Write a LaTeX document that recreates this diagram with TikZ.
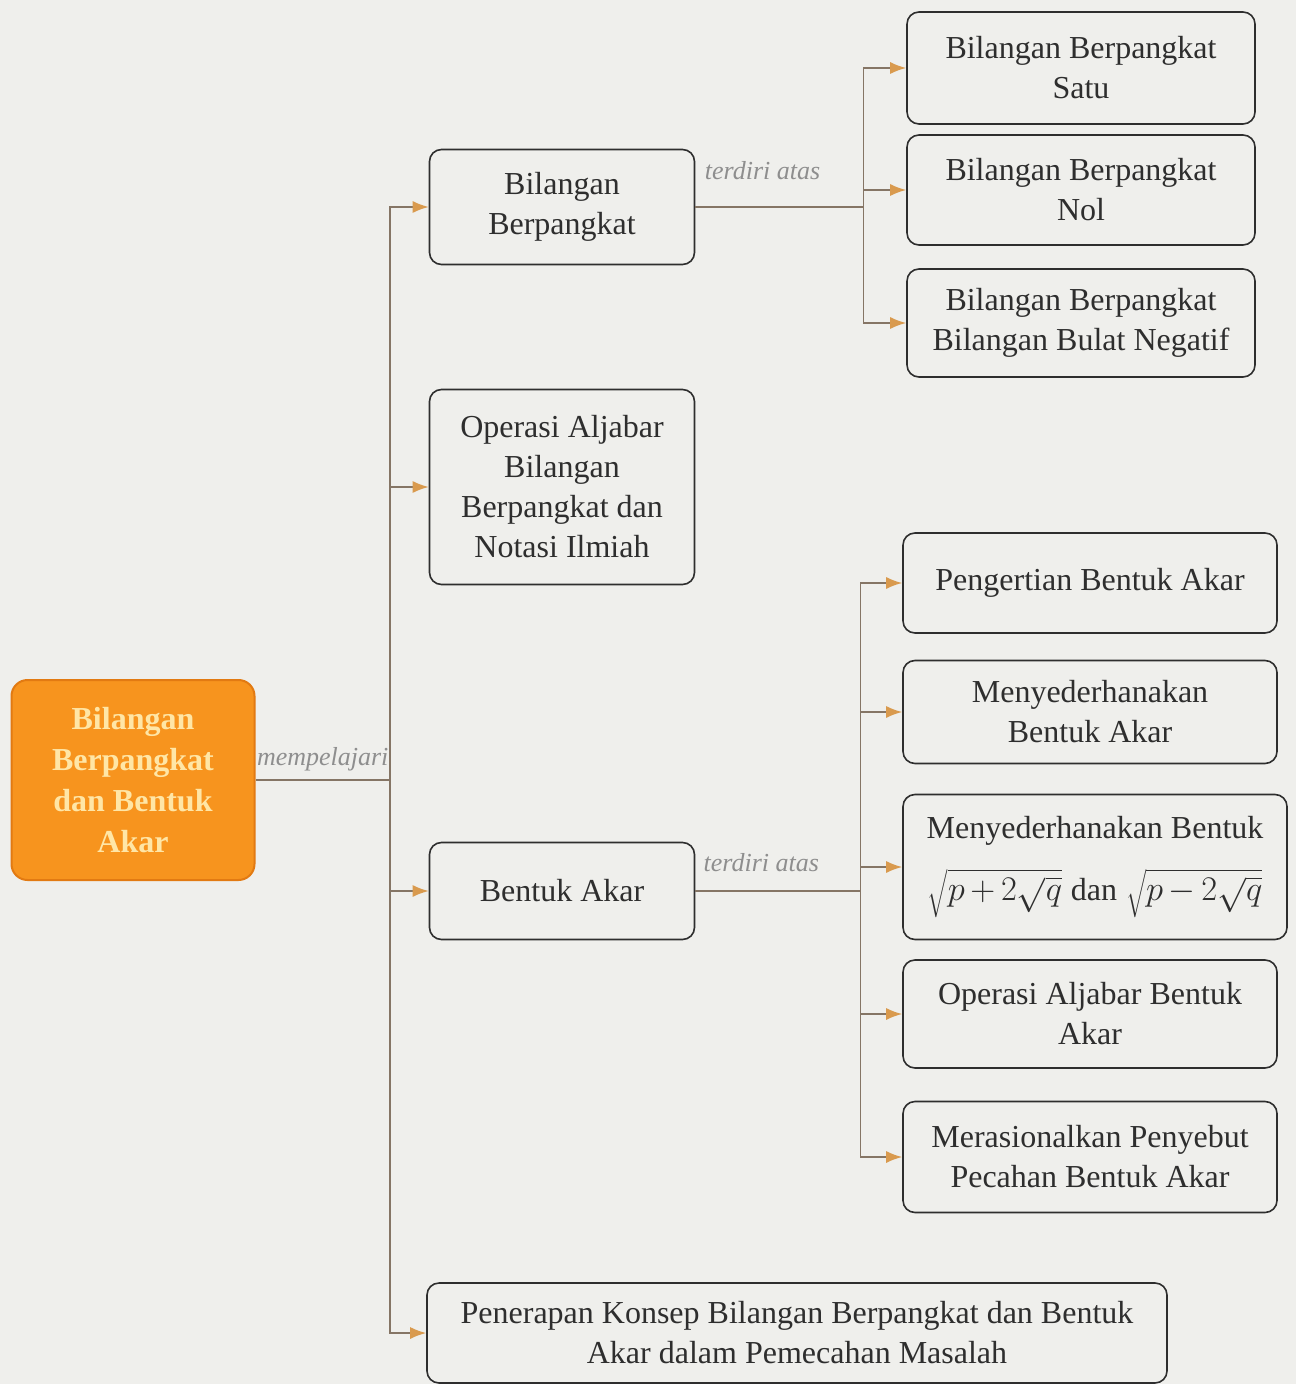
\documentclass[tikz,border=0pt]{standalone}
\usepackage{fontspec}
\setmainfont{Liberation Serif}
\usetikzlibrary{arrows.meta}
\definecolor{ink}{HTML}{2E2E2E}
\definecolor{wire}{HTML}{857565}
\definecolor{tip}{HTML}{D99A4E}
\definecolor{amber}{HTML}{F7941E}
\definecolor{amberline}{HTML}{E27A12}
\definecolor{cream}{HTML}{FFE6A6}
\definecolor{paper}{HTML}{EFEFEC}
\definecolor{note}{HTML}{8E8E8E}

\begin{document}
\begin{tikzpicture}[x=0.5pt,y=-0.5pt,
  box/.style={draw=ink,line width=0.8pt,rounded corners=6pt,align=center,
    inner sep=4pt,text=ink,font=\fontsize{16}{20}\selectfont},
  link/.style={draw=wire,line width=0.8pt},
  arr/.style={link,-{Latex[length=8pt,width=6pt,color=tip]}},
  note/.style={font=\fontsize{13}{15}\selectfont\itshape,text=note}]
  \fill[paper] (0,0) rectangle (1296,1384);
  \useasboundingbox (0,0) rectangle (1296,1384);

  % main topic
  \node[draw=amberline,fill=amber,line width=1pt,rounded corners=8pt,align=center,
    minimum width=121.5pt,minimum height=100pt,text=cream,
    font=\fontsize{16}{20.5}\selectfont\bfseries] (root) at (133,780)
    {Bilangan\\Berpangkat\\dan Bentuk\\Akar};

  % second level
  \node[box,minimum width=132.5pt,minimum height=57.5pt] (bp) at (562,207)
    {Bilangan\\Berpangkat};
  \node[box,minimum width=132.5pt,minimum height=97.5pt] (opr) at (562,487)
    {Operasi Aljabar\\Bilangan\\Berpangkat dan\\Notasi Ilmiah};
  \node[box,minimum width=132.5pt,minimum height=48.5pt] (ba) at (562,891)
    {Bentuk Akar};
  \node[box,minimum width=370pt,minimum height=50pt] (pen) at (797,1333)
    {Penerapan Konsep Bilangan Berpangkat dan Bentuk\\Akar dalam Pemecahan Masalah};

  % bilangan berpangkat
  \node[box,minimum width=174pt,minimum height=56pt] (satu) at (1081,68)
    {Bilangan Berpangkat\\Satu};
  \node[box,minimum width=174pt,minimum height=55pt] (nol) at (1081,190)
    {Bilangan Berpangkat\\Nol};
  \node[box,minimum width=174pt,minimum height=54pt] (neg) at (1081,323)
    {Bilangan Berpangkat\\Bilangan Bulat Negatif};

  % bentuk akar
  \node[box,minimum width=187pt,minimum height=50pt] (pba) at (1090,583)
    {Pengertian Bentuk Akar};
  \node[box,minimum width=187pt,minimum height=51.5pt] (msba) at (1090,712)
    {Menyederhanakan\\Bentuk Akar};
  \node[box,minimum width=192pt,minimum height=72.5pt] (msq) at (1095,867)
    {Menyederhanakan Bentuk\\[11pt]$\sqrt{p\,{+}\,2\sqrt{q}}$\;dan\;$\sqrt{p\,{-}\,2\sqrt{q}}$};
  \node[box,minimum width=187pt,minimum height=54pt] (oba) at (1090,1014)
    {Operasi Aljabar Bentuk\\Akar};
  \node[box,minimum width=187pt,minimum height=55.5pt] (mrs) at (1090,1157)
    {Merasionalkan Penyebut\\Pecahan Bentuk Akar};

  % connectors
  \coordinate (hub) at (390,780);
  \draw[link] (root.east) -- (hub) node[note,midway,above=1pt] {mempelajari};
  \draw[arr] (hub) |- (bp.west);
  \draw[arr] (hub) |- (opr.west);
  \draw[arr] (hub) |- (ba.west);
  \draw[arr] (hub) |- (pen.west);

  \path (bp.east) ++(168,0) coordinate (fork1);
  \draw[link] (bp.east) -- (fork1) node[note,pos=0.4,above=10pt] {terdiri atas};
  \draw[arr] (fork1) |- (satu.west);
  \draw[arr] (fork1) |- (nol.west);
  \draw[arr] (fork1) |- (neg.west);

  \path (ba.east) ++(165,0) coordinate (fork2);
  \draw[link] (ba.east) -- (fork2) node[note,pos=0.4,above=6pt] {terdiri atas};
  \draw[arr] (fork2) |- (pba.west);
  \draw[arr] (fork2) |- (msba.west);
  \draw[arr] (fork2) |- (msq.west);
  \draw[arr] (fork2) |- (oba.west);
  \draw[arr] (fork2) |- (mrs.west);
\end{tikzpicture}
\end{document}
